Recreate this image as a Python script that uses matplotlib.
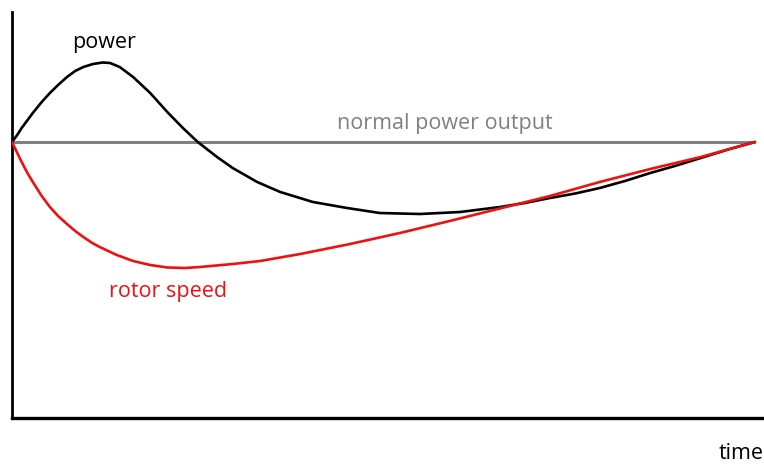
import matplotlib
matplotlib.use("Agg")
import matplotlib.pyplot as plt

# time axis (arbitrary units) and deviations from normal output (arbitrary units)
power_t = [0, 0.07, 0.13, 0.28, 0.40, 0.51, 0.62, 0.74, 0.85, 0.96, 1.09, 1.22,
           1.32, 1.45, 1.63, 1.86, 2.09, 2.30, 2.50, 2.76, 2.97, 3.30, 3.61,
           4.05, 4.51, 4.95, 5.49, 6.03, 6.57, 6.90,
           7.24, 7.58, 7.91, 8.25, 8.59, 8.92, 9.27, 9.66, 10.0]
power_v = [0, 7, 14, 29, 40, 49, 57, 65, 71, 75, 78, 79.5,
           79, 75, 65, 49, 30, 14, 0, -15, -26, -40, -50,
           -60, -66, -71, -72, -70, -65, -61,
           -56, -51.5, -46, -39, -31, -24, -16, -7, 0]

rotor_t = [0, 0.11, 0.20, 0.28, 0.40, 0.51, 0.62, 0.74, 0.85, 0.96, 1.08,
           1.18, 1.41, 1.63, 1.86, 2.09, 2.33, 2.53, 2.97, 3.34, 3.88, 4.55,
           5.22, 5.89, 6.70, 7.24, 7.91, 8.59, 9.27, 10.0]
rotor_v = [0, -17, -30, -40, -54, -65, -74, -82, -89, -95, -101,
           -105, -113, -119, -123, -125.5, -126, -125, -122, -119, -112, -102,
           -91, -79, -64, -54, -40, -27, -15, 0]

normal_t = [0, 10.0]
normal_v = [0, 0]

plt.rcParams['font.family'] = ['Open Sans', 'DejaVu Sans']

fig = plt.figure(figsize=(7.64, 4.69), dpi=100)
ax = fig.add_axes([12/764, 51/469, 752/764, 406/469])
ax.set_xlim(0, 10 * 752 / 743)
ax.set_ylim(-276, 130)

ax.plot(normal_t, normal_v, color='#808080', lw=2.2, solid_capstyle='butt', zorder=2)
ax.plot(power_t, power_v, color='black', lw=1.9, zorder=3,
        solid_joinstyle='round', solid_capstyle='round')
ax.plot(rotor_t, rotor_v, color='#ee1111', lw=1.9, zorder=4,
        solid_joinstyle='round', solid_capstyle='round')

fs = 15.5
ax.text(1.24, 100, 'power', color='black', fontsize=fs, ha='center', va='center')
ax.text(5.83, 19, 'normal power output', color='#808080', fontsize=fs, ha='center', va='center')
ax.text(2.10, -149, 'rotor speed', color='#ee1111', fontsize=fs, ha='center', va='center')
fig.text(719/764, 1 - 453/469, 'time', color='black', fontsize=fs, ha='left', va='center')

for s in ['top', 'right']:
    ax.spines[s].set_visible(False)
ax.spines['left'].set_linewidth(2.0)
ax.spines['bottom'].set_linewidth(2.4)
ax.set_xticks([])
ax.set_yticks([])

fig.savefig('out.png', dpi=100)
